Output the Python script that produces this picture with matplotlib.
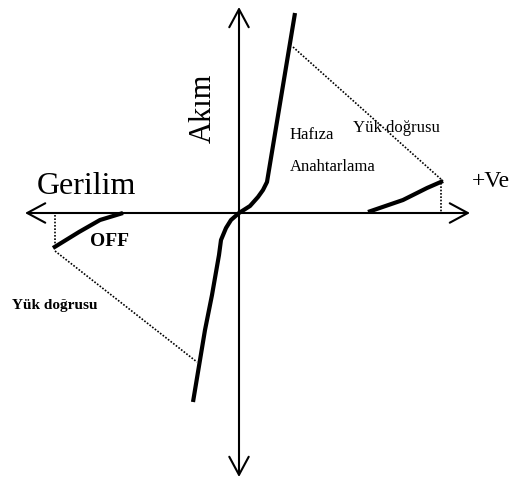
import matplotlib
matplotlib.use("Agg")
import matplotlib.pyplot as plt

# --- data (voltage V, current I in arbitrary units) ---
main_v = [-4.6, -3.4, -2.7, -2.0, -1.8, -1.3, -0.8, 0.0, 1.1, 1.9, 2.4, 2.8, 5.6]
main_i = [-18.9, -11.7, -8.2, -4.2, -2.7, -1.5, -0.7, 0.0, 0.7, 1.6, 2.3, 3.1, 20.0]

on_v = [12.9, 16.4, 18.8, 20.4]
on_i = [0.1, 1.3, 2.5, 3.2]

off_v = [-18.6, -16.0, -13.9, -11.6]
off_i = [-3.5, -1.9, -0.7, 0.0]

load_r_v = [5.4, 20.4]
load_r_i = [16.6, 3.2]
load_l_v = [-18.4, -4.2]
load_l_i = [-3.8, -14.9]

drop_r_v = [20.2, 20.2]
drop_r_i = [3.0, 0.0]
drop_l_v = [-18.4, -18.4]
drop_l_i = [-0.2, -3.5]

x_axis_v = [-21.4, 23.1]
y_axis_i = [20.6, -26.4]

fig = plt.figure(figsize=(5.14, 4.79), dpi=100)
ax = fig.add_axes([0, 0, 1, 1])
ax.set_xlim(-23.9, 27.5)
ax.set_ylim(-26.6, 21.3)
ax.axis("off")

arrow_kw = dict(arrowstyle="<->,head_length=1.3,head_width=0.7",
                lw=1.5, color="black", shrinkA=0, shrinkB=0,
                mutation_scale=10)
ax.annotate("", xy=(x_axis_v[1], 0), xytext=(x_axis_v[0], 0), arrowprops=arrow_kw)
ax.annotate("", xy=(0, y_axis_i[0]), xytext=(0, y_axis_i[1]), arrowprops=arrow_kw)

ax.plot(main_v, main_i, color="black", lw=3.0, solid_capstyle="butt", solid_joinstyle="round")
ax.plot(on_v, on_i, color="black", lw=3.0, solid_capstyle="butt")
ax.plot(off_v, off_i, color="black", lw=3.0, solid_capstyle="butt")

dot_kw = dict(color="black", lw=1.2, linestyle=(0, (1, 1)))
ax.plot(load_r_v, load_r_i, **dot_kw)
ax.plot(load_l_v, load_l_i, **dot_kw)
ax.plot(drop_r_v, drop_r_i, **dot_kw)
ax.plot(drop_l_v, drop_l_i, **dot_kw)

serif = "Liberation Serif"
ax.text(-15.3, 2.7, "Gerilim", family=serif, fontsize=23, ha="center", va="center")
ax.text(25.2, 3.2, "+Ve", family=serif, fontsize=17, ha="center", va="center")
ax.text(-3.6, 10.5, "Akım", family=serif, fontsize=22, ha="center", va="center", rotation=90)
ax.text(-12.9, -2.8, "OFF", family=serif, fontsize=14, fontweight="bold", ha="center", va="center")
ax.text(5.1, 7.8, "Hafıza", family=serif, fontsize=12, ha="left", va="center")
ax.text(5.1, 4.6, "Anahtarlama", family=serif, fontsize=12, ha="left", va="center")
ax.text(11.4, 8.5, "Yük doğrusu", family=serif, fontsize=12, ha="left", va="center")
ax.text(-22.7, -9.2, "Yük doğrusu", family=serif, fontsize=11, fontweight="bold", ha="left", va="center")

fig.savefig("out.png", dpi=100, facecolor="white")
